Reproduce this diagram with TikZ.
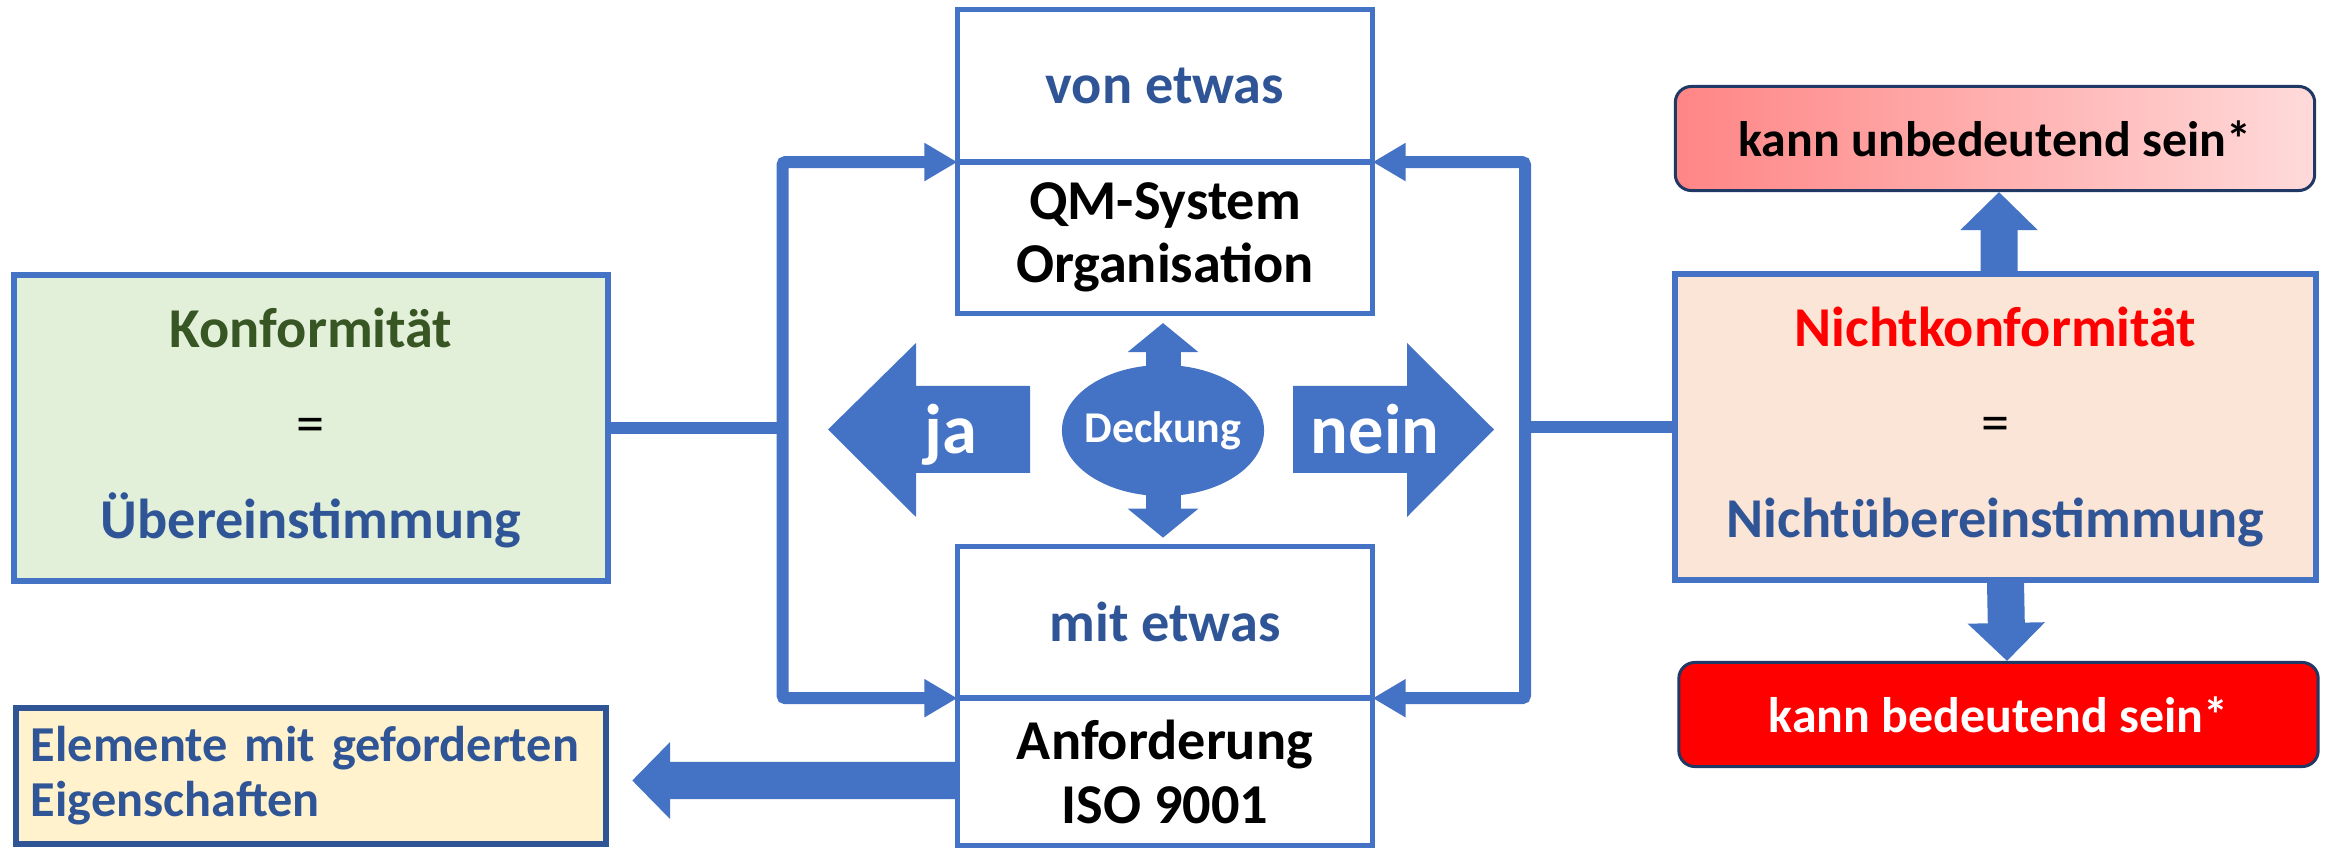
\documentclass[tikz,border=0pt]{standalone}
\usepackage{fontspec}
\setmainfont{Carlito}
\usetikzlibrary{arrows.meta,shapes.geometric}
\definecolor{boxblue}{HTML}{4472C4}
\definecolor{txtblue}{HTML}{2F5597}
\definecolor{okgreen}{HTML}{375623}
\definecolor{navy}{HTML}{1F3864}
\definecolor{greenfill}{HTML}{E2F0D9}
\definecolor{peachfill}{HTML}{FBE5D6}
\definecolor{yellowfill}{HTML}{FFF2CC}
\definecolor{redlight}{HTML}{FF8585}
\definecolor{redpale}{HTML}{FFDADA}
\begin{document}
\begin{tikzpicture}[x=0.01cm,y=-0.01cm,
    font=\bfseries\fontsize{16}{18}\selectfont,
    bigbox/.style={draw=boxblue,line width=0.06cm,minimum width=#1,minimum height=3.05cm,
      align=center,font=\bfseries\fontsize{16}{27.2}\selectfont},
    cell/.style={draw=boxblue,line width=0.05cm,outer sep=0pt,minimum width=4.15cm,align=center},
    note/.style={draw=navy,line width=0.03cm,rounded corners=0.16cm,minimum width=6.39cm,
      minimum height=1.04cm,font=\bfseries\fontsize{14.2}{16}\selectfont},
    jn/.style={text=white,anchor=base,font=\bfseries\fontsize{20}{24}\selectfont},
    link/.style={boxblue,line width=0.12cm,rounded corners=0.03cm},
    tip/.style={-{Triangle[width=0.36cm,length=0.33cm]}},
    fat/.style={boxblue,line width=0.37cm,-{Triangle[width=0.75cm,length=0.38cm]}}]
  \useasboundingbox (0,0) rectangle (2330,849);
  \node[bigbox=5.94cm,fill=greenfill] (konf) at (311,428)
    {\textcolor{okgreen}{Konformität}\\{\mdseries =}\\\textcolor{txtblue}{Übereinstimmung}};
  \node[bigbox=6.41cm,fill=peachfill] (nk) at (1995.5,427)
    {\textcolor{red}{Nichtkonformität}\\{\mdseries =}\\\textcolor{txtblue}{Nichtübereinstimmung}};
  \node[cell,minimum height=1.52cm,text=txtblue] (von) at (1165,86) {von etwas};
  \node[cell,minimum height=1.51cm] (qm) at (1165,237.5) {QM-System\\Organisation};
  \node[cell,minimum height=1.515cm,text=txtblue] (mit) at (1165,622) {mit etwas};
  \node[cell,minimum height=1.475cm] (anf) at (1165,772) {Anforderung\\ISO 9001};
  \node[ellipse,fill=boxblue,text=white,inner sep=0pt,minimum width=2.02cm,minimum height=1.31cm,
    font=\bfseries\fontsize{12.5}{14}\selectfont] (deck) at (1163,430.5) {\makebox[0pt]{Deckung}};
  \node[draw=txtblue,line width=0.06cm,fill=yellowfill,text width=5.6cm,inner xsep=0.15cm,
    minimum height=1.36cm,align=left,text=txtblue,font=\bfseries\fontsize{14.3}{15.6}\selectfont]
    (elem) at (311,776) {Elemente mit geforderten\\Eigenschaften};
  \node[note,left color=redlight,right color=redpale] (unbed) at (1995,138.5) {kann unbedeutend sein*};
  \node[note,fill=red,text=white] (bed) at (1998.5,714.5) {kann bedeutend sein*};
  \fill[boxblue] (828,429.5) -- (916,343) -- (916,386) -- (1030,386) -- (1030,473)
    -- (916,473) -- (916,517) -- cycle;
  \fill[boxblue] (1494,429.5) -- (1407,343) -- (1407,386) -- (1293,386) -- (1293,473)
    -- (1407,473) -- (1407,517) -- cycle;
  \node[jn] (ja) at (951,454) {ja};
  \node[jn] (nein) at (1375,454) {nein};
  \coordinate (jl) at (782.5,428);
  \coordinate (nl) at (1525,427);
  \begin{scope}[link]
    \draw (konf.east) -- (jl);
    \draw[tip] (jl) |- (von.south west);
    \draw[tip] (jl) |- (anf.north west);
    \draw (nk.west) -- (nl);
    \draw[tip] (nl) |- (von.south east);
    \draw[tip] (nl) |- (anf.north east);
  \end{scope}
  \draw[boxblue,line width=0.35cm,-{Triangle[width=0.69cm,length=0.29cm]},shorten >=0.1cm]
    ([yshift=-0.03cm]deck.north) -- (deck.north |- qm.south);
  \draw[boxblue,line width=0.35cm,-{Triangle[width=0.69cm,length=0.29cm]},shorten >=0.085cm]
    ([yshift=0.03cm]deck.south) -- (deck.south |- mit.north);
  \draw[fat,shorten >=0.23cm] ([yshift=-0.085cm]anf.west) -- ([yshift=-0.045cm]elem.east);
  \draw[fat] ([xshift=0.035cm]nk.north) -- ([xshift=0.04cm]unbed.south);
  \draw[fat] ([xshift=0.1cm]nk.south) -- ([xshift=0.085cm]bed.north);
\end{tikzpicture}
\end{document}
